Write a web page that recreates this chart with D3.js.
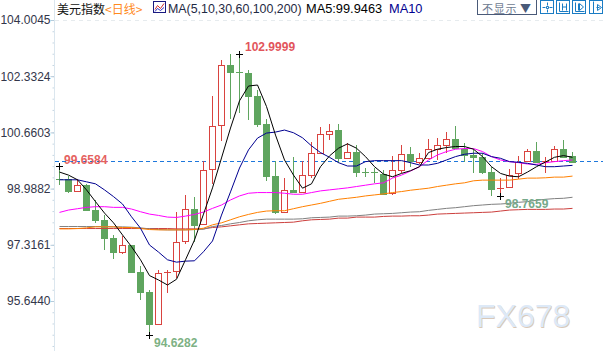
<!DOCTYPE html>
<html>
<head>
<meta charset="utf-8">
<script src="https://cdnjs.cloudflare.com/ajax/libs/d3/7.8.5/d3.min.js"></script>
<style>
  html, body { margin: 0; padding: 0; background: #fff; overflow: hidden; }
  svg { display: block; }
  text { font-family: "Liberation Sans", Arial, sans-serif; }
  .cjk { font-family: "Noto Sans CJK SC", sans-serif; }
</style>
</head>
<body>
<div id="chart"></div>
<script>
// --- DATA ---
const opens = [99.28,99.27,98.93,99.10,98.35,98.05,97.53,97.11,97.31,96.52,95.91,94.97,96.49,96.54,97.43,98.38,97.93,99.56,100.87,102.66,102.45,102.43,101.74,100.91,99.36,98.28,98.95,98.90,99.40,100.04,100.62,100.73,99.91,100.08,99.47,99.47,99.42,98.85,99.55,100.02,99.79,99.91,100.18,100.30,100.46,100.18,99.98,99.93,99.48,98.99,99.03,99.44,99.80,100.10,99.79,99.81,100.17,99.96];
const closes = [99.26,98.93,99.10,98.35,98.05,97.53,97.11,97.30,96.52,95.92,94.97,96.47,96.50,97.39,98.37,97.91,99.53,100.84,102.66,102.47,102.44,101.75,100.92,99.37,98.30,98.94,98.90,99.38,100.04,100.60,100.71,99.91,100.07,99.48,99.45,99.45,98.83,99.53,100.01,99.81,99.89,100.16,100.28,100.46,100.19,100.00,99.94,99.49,98.99,99.00,99.40,99.79,100.10,99.79,99.81,100.16,99.93,99.79];
const highs = [99.6584,99.36,99.27,99.13,98.65,98.20,97.61,97.58,97.31,96.69,95.97,96.57,96.57,98.28,98.80,98.73,99.81,101.74,102.82,102.99,102.9999,102.52,101.92,101.05,99.81,99.30,99.94,99.81,100.37,100.81,100.91,100.91,100.35,100.29,99.59,99.60,99.54,99.96,100.29,100.23,100.05,100.46,100.49,100.67,100.85,100.34,100.16,100.05,99.64,99.30,99.56,99.96,100.16,100.38,99.92,100.26,100.44,100.08];
const lows = [99.10,98.87,98.90,98.32,97.97,97.16,96.89,97.04,96.49,95.68,94.6282,94.93,95.88,96.33,97.33,97.40,97.90,99.13,100.41,101.06,101.24,101.03,100.83,99.22,98.24,98.26,98.89,98.89,99.30,100.03,100.43,99.76,99.87,99.34,99.34,99.16,98.82,98.81,99.44,99.62,99.72,99.90,99.84,100.05,100.18,99.79,99.44,99.42,98.78,98.7659,99.02,99.27,99.79,99.78,99.44,99.80,99.92,99.78];

const ma5 = [99.48,99.39,99.25,98.95,98.60,98.26,97.97,97.61,97.26,96.87,96.40,96.27,96.12,96.29,96.87,97.46,98.23,99.01,99.90,100.79,101.60,102.04,102.07,101.43,100.58,99.84,99.39,99.00,99.13,99.64,99.96,100.19,100.32,100.19,99.94,99.64,99.42,99.34,99.44,99.52,99.64,100.06,100.16,100.21,100.24,100.24,100.16,99.94,99.64,99.44,99.36,99.34,99.48,99.64,99.78,99.92,99.97,99.92];
const ma10 = [99.25,99.25,99.25,99.19,99.13,98.95,98.75,98.53,98.15,97.81,97.31,97.10,96.87,96.80,96.83,96.84,97.11,97.43,98.20,98.89,99.60,100.14,100.49,100.64,100.67,100.73,100.65,100.50,100.26,100.06,99.92,99.76,99.66,99.66,99.79,99.82,99.82,99.82,99.82,99.76,99.69,99.69,99.74,99.84,99.94,100.01,100.04,100.04,99.94,99.89,99.79,99.77,99.74,99.69,99.64,99.64,99.66,99.68];
const ma30 = [98.28,98.35,98.39,98.43,98.45,98.45,98.43,98.43,98.38,98.30,98.23,98.19,98.14,98.13,98.17,98.22,98.29,98.40,98.50,98.65,98.77,98.85,98.87,98.87,98.87,98.85,98.82,98.82,98.87,98.92,98.95,98.98,99.01,99.05,99.09,99.13,99.16,99.30,99.39,99.51,99.64,99.84,99.99,100.09,100.16,100.18,100.18,100.09,99.94,99.84,99.79,99.76,99.72,99.71,99.76,99.79,99.82,99.84];
const ma60 = [97.79,97.79,97.80,97.82,97.85,97.85,97.85,97.83,97.83,97.80,97.77,97.76,97.76,97.76,97.76,97.77,97.81,97.91,97.97,98.06,98.15,98.22,98.28,98.32,98.33,98.33,98.39,98.45,98.50,98.55,98.61,98.67,98.70,98.73,98.77,98.80,98.83,98.87,98.90,98.94,98.97,99.00,99.05,99.09,99.13,99.16,99.22,99.24,99.24,99.24,99.24,99.27,99.30,99.30,99.31,99.33,99.33,99.36];
const ma100 = [97.86,97.86,97.86,97.86,97.86,97.86,97.85,97.85,97.84,97.82,97.79,97.77,97.76,97.76,97.76,97.77,97.78,97.86,97.89,97.94,97.98,98.03,98.06,98.08,98.08,98.08,98.08,98.09,98.12,98.13,98.14,98.17,98.17,98.18,98.20,98.23,98.24,98.25,98.27,98.29,98.30,98.34,98.37,98.40,98.42,98.45,98.48,98.50,98.52,98.53,98.55,98.58,98.60,98.64,98.67,98.69,98.70,98.73];
const ma200 = [97.80,97.80,97.80,97.80,97.80,97.80,97.80,97.80,97.80,97.80,97.80,97.80,97.80,97.79,97.79,97.79,97.79,97.83,97.85,97.88,97.91,97.94,97.95,97.96,97.97,97.98,97.99,98.03,98.06,98.07,98.08,98.11,98.11,98.14,98.14,98.14,98.16,98.17,98.17,98.18,98.18,98.20,98.23,98.24,98.25,98.26,98.27,98.28,98.29,98.32,98.35,98.36,98.37,98.37,98.37,98.38,98.38,98.40];

const yTicks = [104.0045, 102.3324, 100.6603, 98.9882, 97.3161, 95.6440];
const lastPrice = 99.80;
const maSeries = [ma200, ma100, ma60, ma30, ma10, ma5];
const maSeriesColors = ["#cc3f3d", "#808080", "#ff8000", "#ff00ff", "#000090", "#000000"];

// --- SETUP ---
const width = 603, height = 351;
const upColor = "#d9433f", downColor = "#5fa55f";
const svg = d3.select("#chart").append("svg").attr("width", width).attr("height", height);

const xScale = d3.scalePoint().domain(d3.range(opens.length)).range([59.5, 572.5]);
const yScale = d3.scaleLinear().domain([104.0045, 95.6440]).range([20, 301]);
const crisp = v => Math.round(v) + 0.5;

// --- AXIS ---
svg.append("line").attr("x1", 55).attr("x2", width).attr("y1", 20.5).attr("y2", 20.5)
    .attr("stroke", "#e6ebee").attr("stroke-dasharray", "4,4");

const minorTicks = d3.range(0, 30).map(k => 104.0045 - k * 1.6721 / 5);
const minorAxis = d3.axisLeft(yScale).tickValues(minorTicks).tickSize(2).tickFormat("");
svg.append("g").attr("transform", "translate(54.5,0)").call(minorAxis)
    .call(g => g.select(".domain").remove())
    .selectAll("line").attr("stroke", "#c5d6e2");

const yAxis = d3.axisLeft(yScale).tickValues(yTicks).tickSize(4).tickPadding(0).tickFormat(d3.format(".4f"));
const axisG = svg.append("g").attr("transform", "translate(54.5,0)").call(yAxis);
axisG.select(".domain").remove();
axisG.selectAll("line").attr("stroke", "#b5cbdb");
axisG.selectAll("text").attr("fill", "#33364a").style("font-size", "12px")
    .style("font-family", '"Liberation Sans", Arial, sans-serif');
svg.append("line").attr("x1", 54.5).attr("x2", 54.5).attr("y1", 0).attr("y2", height).attr("stroke", "#dbe6ee");

// --- LAST PRICE LINE ---
svg.append("line").attr("x1", 55).attr("x2", width)
    .attr("y1", crisp(yScale(lastPrice))).attr("y2", crisp(yScale(lastPrice)))
    .attr("stroke", "#1e78dc").attr("stroke-dasharray", "4,3");

// --- CANDLES ---
const candles = d3.range(opens.length);
const candleG = svg.append("g").selectAll("g").data(candles).enter().append("g");
const candleColor = i => closes[i] > opens[i] ? upColor : downColor;

candleG.append("line")
    .attr("x1", i => xScale(i)).attr("x2", i => xScale(i))
    .attr("y1", i => Math.round(yScale(highs[i]))).attr("y2", i => Math.round(yScale(lows[i])))
    .attr("stroke", candleColor);

candleG.each(function(i) {
    const top = Math.round(yScale(Math.max(opens[i], closes[i])));
    const bottom = Math.round(yScale(Math.min(opens[i], closes[i])));
    const g = d3.select(this);
    const x = xScale(i);
    if (bottom - top < 2) {
        g.append("line").attr("x1", x - 3.5).attr("x2", x + 3.5)
            .attr("y1", top + 0.5).attr("y2", top + 0.5).attr("stroke", candleColor(i));
    } else if (closes[i] > opens[i]) {
        g.append("rect").attr("x", x - 3).attr("width", 6).attr("y", top + 0.5).attr("height", bottom - top)
            .attr("fill", "#fff").attr("stroke", upColor);
    } else {
        g.append("rect").attr("x", x - 3.5).attr("width", 7).attr("y", top).attr("height", bottom - top + 1)
            .attr("fill", downColor);
    }
});

// --- MOVING AVERAGES ---
const line = d3.line().x((d, i) => xScale(i)).y(d => yScale(d));
maSeries.forEach((s, k) => {
    svg.append("path").datum(s).attr("d", line).attr("fill", "none")
        .attr("stroke", maSeriesColors[k]).attr("stroke-width", 1);
});

// --- HIGH / LOW MARKERS ---
[[0, highs[0]], [20, highs[20]], [10, lows[10]], [49, lows[49]]].forEach(([i, v]) => {
    const cx = xScale(i), cy = crisp(yScale(v));
    svg.append("path").attr("d", `M${cx - 3.5},${cy}H${cx + 3.5}M${cx},${cy - 3.5}V${cy + 3.5}`)
        .attr("stroke", "#000").attr("fill", "none");
});

const bold = [
    ["102.9999", 245, 51, "#e2555c"],
    ["99.6584", 64, 164, "#e5625f"],
    ["94.6282", 154, 347, "#7db184"],
    ["98.7659", 505, 208, "#76a98a"]
];
svg.append("g").selectAll("text").data(bold).enter().append("text")
    .attr("x", d => d[1]).attr("y", d => d[2]).attr("fill", d => d[3])
    .style("font-size", "12px").style("font-weight", "bold").text(d => d[0]);

// --- WATERMARK ---
const mark = svg.append("g");
mark.append("text").attr("x", 476.8).attr("y", 327.6).attr("fill", "#d9c8b8")
    .style("font-size", "32px").text("FX678");
mark.append("text").attr("x", 476).attr("y", 327).attr("fill", "#dde9f7")
    .style("font-size", "32px").text("FX678");

// --- HEADER ---
svg.append("text").attr("class", "cjk").attr("x", 57).attr("y", 14).attr("fill", "#111")
    .style("font-size", "12px").text("美元指数");
svg.append("text").attr("class", "cjk").attr("x", 105).attr("y", 14).attr("fill", "#ff8a1e")
    .style("font-size", "12px").text("<日线>");

const icon = svg.append("g").attr("transform", "translate(153.5,1.5)");
icon.append("rect").attr("width", 12).attr("height", 11).attr("fill", "#fff").attr("stroke", "#1a1a80");
icon.append("path").attr("d", "M1.5,8L4,4L7,7L10.5,2").attr("fill", "none").attr("stroke", "#d03030");
icon.append("path").attr("d", "M1.5,10L4,7L7,9L10.5,6").attr("fill", "none").attr("stroke", "#3030c0");

svg.append("text").attr("x", 168).attr("y", 13).attr("fill", "#1f2a44")
    .style("font-size", "12.4px").text("MA(5,10,30,60,100,200)");
svg.append("text").attr("x", 306).attr("y", 13).attr("fill", "#000000")
    .style("font-size", "12.8px").text("MA5:99.9463");
svg.append("text").attr("x", 389).attr("y", 13).attr("fill", "#000090")
    .style("font-size", "12.8px").text("MA10");

// --- TOOLBAR ---
svg.append("rect").attr("x", 477.5).attr("y", -1).attr("width", 59).attr("height", 15.5)
    .attr("fill", "#fff").attr("stroke", "#4a5a78");
svg.append("text").attr("class", "cjk").attr("x", 482).attr("y", 13).attr("fill", "#6d7a90")
    .style("font-size", "11px").style("letter-spacing", "0.7px").text("不显示");
svg.append("text").attr("class", "cjk").attr("x", 520).attr("y", 13).attr("fill", "#4a5a78")
    .style("font-size", "11px").text("▼");

const toolGlyphs = [
    "M7,2V5M7,9V12M2,7H5M9,7H12M6,6H8V8H6Z",
    "M3,2V11H12M6,3V10M10,3V10M6,6.5H10",
    "M3,2V11H12M6,3V10M7,3L11,6.5L7,10Z",
    "M4,1V13M7,7H10M8,4L12,7L8,10Z"
];
const toolX = [240, 256, 272, 289];
toolGlyphs.forEach((g, k) => {
    const t = svg.append("g").attr("transform", `translate(${300 + toolX[k]}.5,0.5)`);
    t.append("rect").attr("width", 13).attr("height", 13).attr("fill", "#fff").attr("stroke", "#1a7cc4");
    t.append("path").attr("d", g).attr("fill", "none").attr("stroke", "#1a7cc4");
});
</script>
</body>
</html>
